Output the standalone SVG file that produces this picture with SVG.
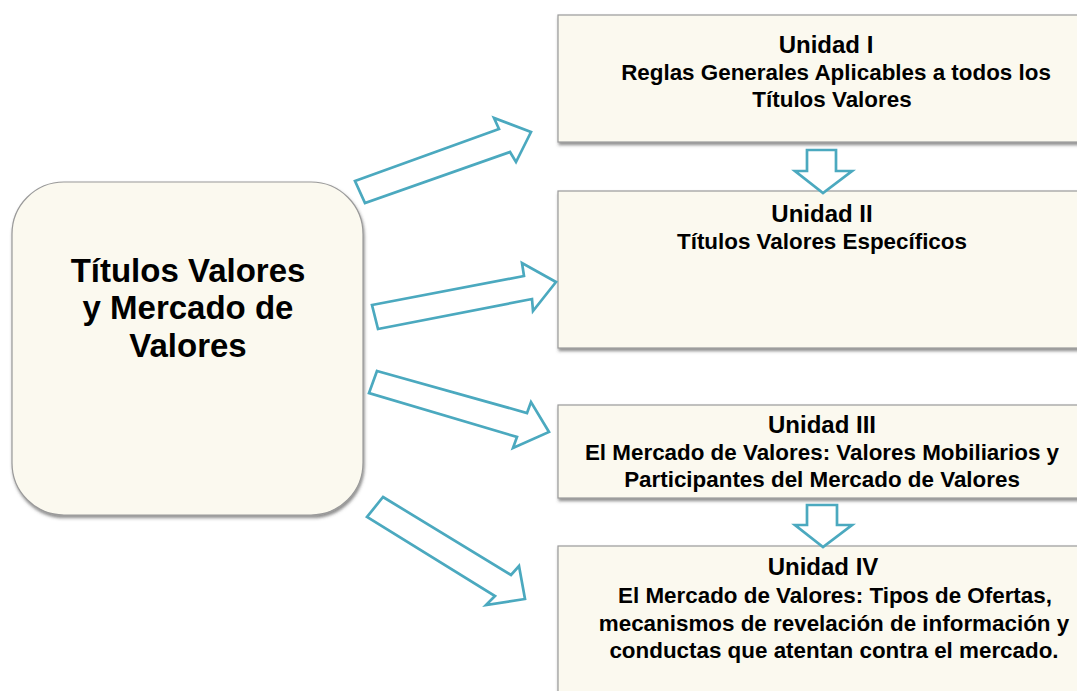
<svg xmlns="http://www.w3.org/2000/svg" width="1077" height="691" viewBox="0 0 1077 691">
<defs>
<filter id="sh" x="-5%" y="-5%" width="110%" height="115%">
<feDropShadow dx="1" dy="2.5" stdDeviation="1.5" flood-color="#404040" flood-opacity="0.6"/>
</filter>
</defs>
<style>
.box{fill:#FBF9EF;stroke:#9A9A9A;stroke-width:1.2;filter:url(#sh)}
.arr{fill:#FFFFFF;stroke:#4BA9BF;stroke-width:2.7;stroke-linejoin:miter}
.t{font-family:"Liberation Sans",Arial,sans-serif;font-weight:bold;fill:#000;text-anchor:middle}
.h{font-size:24px}
.b{font-size:22.4px}
.m{font-size:33px}
</style>
<rect width="1077" height="691" fill="#FFFFFF"/>
<g id="main">
<rect class="box" x="12" y="182" width="351" height="333" rx="52" ry="52"/>
<text class="t m" x="188" y="282">Títulos Valores</text>
<text class="t m" x="188" y="319">y Mercado de</text>
<text class="t m" x="188" y="357">Valores</text>
</g>
<g id="unidad1">
<rect class="box" x="558" y="15" width="528" height="127"/>
<text class="t h" x="826" y="53">Unidad I</text>
<text class="t b" x="836" y="80">Reglas Generales Aplicables a todos los</text>
<text class="t b" x="832" y="107">Títulos Valores</text>
</g>
<g id="unidad2">
<rect class="box" x="558" y="191" width="528" height="157"/>
<text class="t h" x="822" y="222">Unidad II</text>
<text class="t b" x="822" y="249">Títulos Valores Específicos</text>
</g>
<g id="unidad3">
<rect class="box" x="558" y="405" width="528" height="93"/>
<text class="t h" x="822" y="433">Unidad III</text>
<text class="t b" x="822" y="460">El Mercado de Valores: Valores Mobiliarios y</text>
<text class="t b" x="822" y="487">Participantes del Mercado de Valores</text>
</g>
<g id="unidad4">
<rect class="box" x="558" y="546" width="528" height="160"/>
<text class="t h" x="823" y="575">Unidad IV</text>
<text class="t b" x="835" y="603">El Mercado de Valores: Tipos de Ofertas,</text>
<text class="t b" x="834" y="631">mecanismos de revelación de información y</text>
<text class="t b" x="834" y="658">conductas que atentan contra el mercado.</text>
</g>
<g id="connectors">
<polygon class="arr" points="355,181 499,129 494,118 531,132 516,162 510,152 365,203"/>
<polygon class="arr" points="372,305 524,276 522,263 556,282 533,311 532,299 378,329"/>
<polygon class="arr" points="377,371 527,413 531,402 549,432 513,448 517,437 369,393"/>
<polygon class="arr" points="383,497 511,575 519,566 525,599 486,605 495,596 367,517"/>
<polygon class="arr" points="807,150 836,150 836,171 852,171 823,193 795,171 807,171"/>
<polygon class="arr" points="807,505 837,505 837,525 852,525 823,547 795,525 807,525"/>
</g>
</svg>
